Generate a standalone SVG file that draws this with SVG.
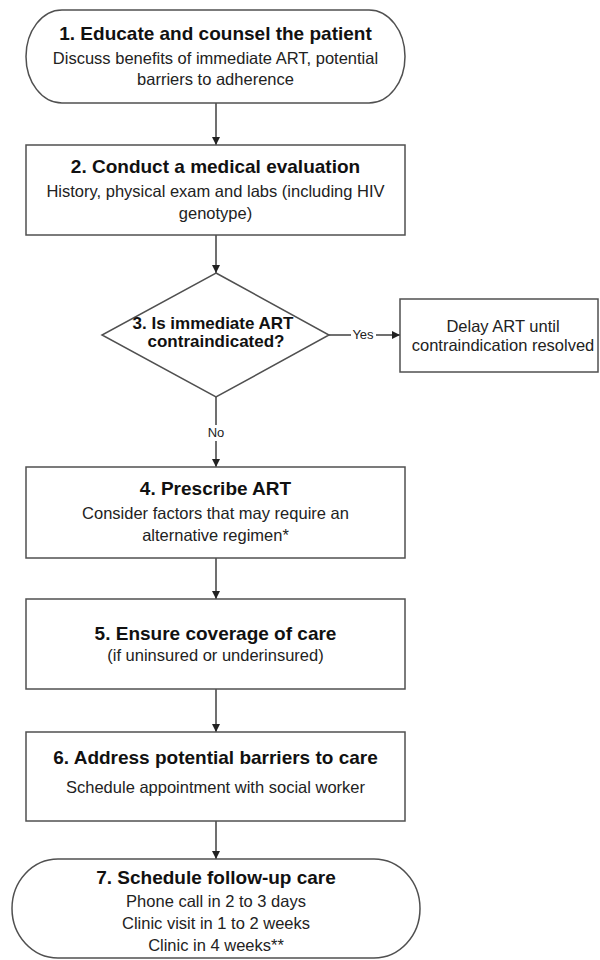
<svg xmlns="http://www.w3.org/2000/svg" width="600" height="960" viewBox="0 0 600 960">
<style>
.box{fill:#fff;stroke:#505050;stroke-width:1.5}
.t{font-family:"Liberation Sans",Arial,sans-serif;font-size:19px;font-weight:bold;fill:#111;text-anchor:middle}
.b{font-family:"Liberation Sans",Arial,sans-serif;font-size:16.5px;fill:#222;text-anchor:middle}
.d{font-family:"Liberation Sans",Arial,sans-serif;font-size:17px;font-weight:bold;fill:#111;text-anchor:middle}
.l{font-family:"Liberation Sans",Arial,sans-serif;font-size:13px;fill:#222;text-anchor:middle}
.c{stroke:#404040;stroke-width:1.5;fill:none}
</style>
<defs>
<marker id="arr" markerWidth="8" markerHeight="8" refX="8" refY="4" orient="auto" markerUnits="userSpaceOnUse">
<path d="M0,0 L8,4 L0,8 Z" fill="#222"/>
</marker>
</defs>
<rect width="600" height="960" fill="#fff"/>
<g id="connectors">
<line class="c" x1="216" y1="103" x2="216" y2="145" marker-end="url(#arr)"/>
<line class="c" x1="216" y1="235" x2="216" y2="273" marker-end="url(#arr)"/>
<line class="c" x1="329" y1="335" x2="351" y2="335"/>
<line class="c" x1="376" y1="335" x2="400" y2="335" marker-end="url(#arr)"/>
<text class="l" x="363" y="339">Yes</text>
<line class="c" x1="216" y1="397" x2="216" y2="425"/>
<line class="c" x1="216" y1="441" x2="216" y2="467" marker-end="url(#arr)"/>
<text class="l" x="216" y="437">No</text>
<line class="c" x1="216" y1="558" x2="216" y2="599" marker-end="url(#arr)"/>
<line class="c" x1="216" y1="689" x2="216" y2="732" marker-end="url(#arr)"/>
<line class="c" x1="216" y1="821" x2="216" y2="859" marker-end="url(#arr)"/>
</g>
<g id="node1">
<rect class="box" x="26" y="10" width="379" height="93" rx="36" ry="46.5"/>
<text class="t" x="215.5" y="40">1. Educate and counsel the patient</text>
<text class="b" x="215.5" y="64">Discuss benefits of immediate ART, potential</text>
<text class="b" x="215.5" y="85">barriers to adherence</text>
</g>
<g id="node2">
<rect class="box" x="26" y="145" width="379" height="90"/>
<text class="t" x="215.5" y="173">2. Conduct a medical evaluation</text>
<text class="b" x="215.5" y="197">History, physical exam and labs (including HIV</text>
<text class="b" x="215.5" y="219">genotype)</text>
</g>
<g id="node3">
<polygon class="box" points="216,273 329,335 216,397 102,335"/>
<text class="d" x="213" y="329">3. Is immediate ART</text>
<text class="d" x="216" y="347">contraindicated?</text>
</g>
<g id="nodeDelay">
<rect class="box" x="400" y="299" width="198" height="73"/>
<text class="b" x="503" y="332">Delay ART until</text>
<text class="b" x="503" y="351">contraindication resolved</text>
</g>
<g id="node4">
<rect class="box" x="26" y="467" width="379" height="91"/>
<text class="t" x="215.5" y="495">4. Prescribe ART</text>
<text class="b" x="215.5" y="519">Consider factors that may require an</text>
<text class="b" x="215.5" y="541">alternative regimen*</text>
</g>
<g id="node5">
<rect class="box" x="26" y="599" width="379" height="90"/>
<text class="t" x="215.5" y="640">5. Ensure coverage of care</text>
<text class="b" x="215.5" y="661">(if uninsured or underinsured)</text>
</g>
<g id="node6">
<rect class="box" x="26" y="732" width="379" height="89"/>
<text class="t" x="215.5" y="764">6. Address potential barriers to care</text>
<text class="b" x="215.5" y="793">Schedule appointment with social worker</text>
</g>
<g id="node7">
<rect class="box" x="12" y="859" width="408" height="99" rx="46" ry="49.5"/>
<text class="t" x="216" y="884">7. Schedule follow-up care</text>
<text class="b" x="216" y="907">Phone call in 2 to 3 days</text>
<text class="b" x="216" y="929">Clinic visit in 1 to 2 weeks</text>
<text class="b" x="216" y="951">Clinic in 4 weeks**</text>
</g>
</svg>
